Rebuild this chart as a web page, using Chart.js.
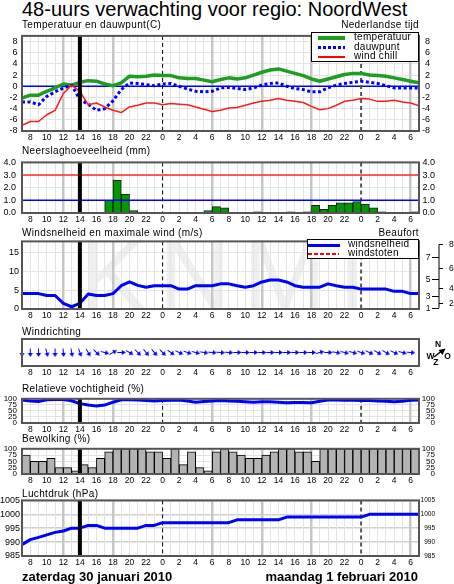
<!DOCTYPE html>
<html>
<head>
<meta charset="utf-8">
<title>48-uurs verwachting voor regio: NoordWest</title>
<script src="https://cdn.jsdelivr.net/npm/chart.js@4.4.1/dist/chart.umd.min.js"></script>
<style>
  html, body { margin: 0; padding: 0; background: #fff; }
  #page { position: relative; width: 454px; height: 584px; overflow: hidden;
          font-family: "Liberation Sans", Arial, Helvetica, sans-serif; color: #000; }
  canvas { position: absolute; left: 0; z-index: 1; }
  .txt { position: absolute; white-space: nowrap; line-height: 1; z-index: 2; }
  .lbl { font-size: 10px; letter-spacing: 0.35px; }
  .foot { font-size: 13px; font-weight: bold; }
  .legend { position: absolute; background: #fff; border: 1px solid #000; box-sizing: border-box; z-index: 3; }
  .legend .txt { font-size: 10px; letter-spacing: 0.3px; }
  .smp { position: absolute; }
  .cmp { font-size: 8.5px; font-weight: bold; }
  #wm { z-index: 0; font-size: 100px; color: #efefef; letter-spacing: 12px; }
</style>
</head>
<body>
<div id="page">
  <div class="txt" id="wm" style="left:80px;top:224px">KNMI</div>

  <div class="txt" style="left:22px;top:-1.5px;font-size:20px">48-uurs verwachting voor regio: NoordWest</div>

  <div class="txt lbl" style="left:22px;top:20px">Temperatuur en dauwpunt(C)</div>
  <div class="txt lbl" style="right:35px;top:20px">Nederlandse tijd</div>
  <div class="txt lbl" style="left:22px;top:145.5px">Neerslaghoeveelheid (mm)</div>
  <div class="txt lbl" style="left:22px;top:227.5px">Windsnelheid en maximale wind (m/s)</div>
  <div class="txt lbl" style="right:35px;top:227.5px">Beaufort</div>
  <div class="txt lbl" style="left:22px;top:326.5px">Windrichting</div>
  <div class="txt lbl" style="left:22px;top:384px">Relatieve vochtigheid (%)</div>
  <div class="txt lbl" style="left:22px;top:433.5px">Bewolking (%)</div>
  <div class="txt lbl" style="left:22px;top:488.5px">Luchtdruk (hPa)</div>

  <div class="txt foot" style="left:22px;top:569.5px">zaterdag 30 januari 2010</div>
  <div class="txt foot" style="right:36px;top:569.5px">maandag 1 februari 2010</div>

  <canvas id="cTemp" width="454" height="119" style="top:26px"></canvas>
  <canvas id="cRain" width="454" height="76" style="top:151px"></canvas>
  <canvas id="cWind" width="454" height="90" style="top:233px"></canvas>
  <canvas id="cDir" width="454" height="47" style="top:333px"></canvas>
  <canvas id="cHum" width="454" height="48" style="top:389px"></canvas>
  <canvas id="cCloud" width="454" height="49" style="top:439px"></canvas>
  <canvas id="cPres" width="454" height="77" style="top:493px"></canvas>

  <div class="legend" style="left:311px;top:32px;width:108px;height:30px">
    <div class="smp" style="left:6px;top:2.5px;width:27px;height:4px;background:#1e9e1e"></div>
    <div class="txt" style="left:42px;top:-1px">temperatuur</div>
    <div class="smp" style="left:6px;top:13px;width:27px;height:3px;background:repeating-linear-gradient(90deg,#0000ff 0 3px,transparent 3px 5px)"></div>
    <div class="txt" style="left:42px;top:8.5px">dauwpunt</div>
    <div class="smp" style="left:6px;top:23px;width:27px;height:1.5px;background:#ff0000"></div>
    <div class="txt" style="left:42px;top:18.3px">wind chill</div>
  </div>

  <div class="legend" style="left:306.5px;top:239px;width:112.5px;height:20px">
    <div class="smp" style="left:0.5px;top:3.5px;width:32px;height:3px;background:#0000ff"></div>
    <div class="txt" style="left:40.5px;top:-0.8px">windsnelheid</div>
    <div class="smp" style="left:0.5px;top:12.5px;width:31px;height:2.5px;background:repeating-linear-gradient(90deg,#ff0000 0 4px,transparent 4px 6px)"></div>
    <div class="txt" style="left:40.5px;top:8.2px">windstoten</div>
  </div>

  <div class="txt cmp" style="left:435px;top:339.8px">N</div>
  <div class="txt cmp" style="left:426.5px;top:351.5px">W</div>
  <div class="txt cmp" style="left:444.3px;top:351.5px">O</div>
  <div class="txt cmp" style="left:433.3px;top:358px">Z</div>
  <svg style="position:absolute;left:0;top:0;z-index:2" width="454" height="584">
    <line x1="434" y1="357" x2="441" y2="351.5" stroke="#000" stroke-width="1.5"/>
    <polygon points="445.5,348.5 438.5,350 442.5,355" fill="#000"/>
  </svg>
</div>

<script>
const FONT = '"Liberation Sans", Arial, Helvetica, sans-serif';

// x-axis: hours since Saturday 00:00 (7 = za 07:00, 24 = midnight, 55 = ma 07:00)
const hours = [7, 8, 9, 10, 11, 12, 13, 14, 15, 16, 17, 18, 19, 20, 21, 22, 23, 24, 25, 26, 27, 28, 29, 30, 31,
               32, 33, 34, 35, 36, 37, 38, 39, 40, 41, 42, 43, 44, 45, 46, 47, 48, 49, 50, 51, 52, 53, 54, 55];
const nowHour = 14;
const midnights = [24, 48];

// hourly values, one per entry in hours
const temperatuur = [-2.1, -1.6, -1.6, -0.9, -0.3, 0.4, 0.2, 0.7, 1.0, 0.9, 0.4, 0.1, 0.6, 1.8, 1.7, 1.8, 2.0, 1.9, 1.9,
                     1.5, 1.4, 1.4, 1.1, 0.8, 1.2, 1.5, 1.3, 1.5, 2.0, 2.5, 2.9, 3.1, 2.7, 2.3, 1.9, 1.3, 0.9, 1.3,
                     1.7, 2.1, 2.3, 2.3, 2.0, 1.9, 1.8, 1.5, 1.2, 0.9, 0.6];
const dauwpunt = [-2.8, -2.8, -3.3, -1.8, -1.0, -0.3, 0.2, -2.4, -3.2, -4.3, -4.0, -2.6, -0.6, 0.6, 0.5, 0.3, 0.1, 0.4, 0.5,
                  0.0, -0.5, -0.9, -1.0, -0.9, -0.3, -0.2, -0.4, -0.6, -0.3, 0.2, 0.5, 0.6, 0.0, -0.4, -0.6, -1.0, -1.0,
                  -0.3, 0.2, 0.5, 0.7, 0.9, 0.7, 0.5, 0.1, -0.3, -0.3, -0.3, -0.3];
const windchill = [-7.0, -6.3, -6.3, -5.1, -4.3, -1.3, 0.2, -0.9, -3.3, -3.0, -3.7, -4.3, -4.7, -3.7, -3.4, -3.0, -3.0,
                   -3.3, -3.1, -3.2, -3.3, -3.7, -4.1, -4.5, -4.3, -3.9, -3.8, -3.4, -3.0, -2.7, -2.5, -2.2, -2.5, -2.7,
                   -2.9, -3.6, -4.2, -4.0, -3.4, -2.7, -2.5, -2.2, -2.3, -2.7, -2.7, -2.5, -2.8, -3.0, -3.5];
const windsnelheid = [4.1, 4.1, 4.1, 3.6, 3.6, 1.5, 0.6, 1.5, 4.0, 3.6, 3.6, 4.1, 6.2, 7.2, 6.3, 5.8, 6.2, 6.2, 6.2, 5.3,
                      5.3, 6.2, 6.2, 6.2, 6.7, 6.7, 6.2, 5.8, 6.2, 7.2, 7.7, 7.7, 7.2, 6.2, 5.8, 5.8, 5.8, 6.7, 6.2, 5.8,
                      5.8, 5.3, 5.3, 5.3, 5.3, 4.7, 4.7, 4.1, 4.1];
const vochtigheid = [95, 91, 89, 96, 97, 97, 92, 80, 74, 70, 74, 86, 96, 96, 95, 93, 91, 93, 94, 95, 91, 86, 89, 91, 93,
                     91, 90, 88, 86, 88, 88, 86, 84, 85, 85, 84, 90, 95, 95, 94, 94, 93, 93, 91, 90, 88, 90, 94, 95];
const luchtdruk = [989.1, 990.9, 991.7, 992.6, 993.5, 994, 995, 995, 996, 996, 995, 995, 995, 995, 995, 996, 996, 997,
                   997, 997, 997, 997, 997, 997, 997, 997, 998, 998, 998, 998, 998, 998, 999, 999, 999, 999, 999, 999,
                   999, 999, 999, 999, 1000, 1000, 1000, 1000, 1000, 1000, 1000];

// per-hour blocks (hour h .. h+1), one per hour from 7 to 54
const neerslag = [0, 0, 0, 0, 0, 0, 0, 0, 0, 0, 1.0, 2.6, 1.5, 0.2, 0, 0, 0, 0, 0, 0, 0, 0, 0.2, 0.5, 0.4, 0, 0, 0,
                  0.1, 0, 0, 0, 0.1, 0, 0.1, 0.6, 0.3, 0.6, 0.8, 0.8, 0.9, 0.7, 0.4, 0.1, 0, 0, 0, 0.1];
const bewolking = [75, 50, 50, 62.5, 25, 25, 12.5, 37.5, 25, 62.5, 87.5, 100, 100, 100, 100, 87.5, 87.5, 62.5, 100, 37.5,
                   87.5, 25, 12.5, 87.5, 100, 87.5, 75, 62.5, 62.5, 75, 87.5, 100, 100, 87.5, 87.5, 50, 100, 100, 100,
                   100, 100, 100, 100, 100, 100, 100, 100, 100];
// wind direction (degrees, where the wind comes from), hours 7 to 54
const windrichting = [0, 0, 0, 345, 0, 355, 350, 340, 330, 315, 285, 240, 270, 300, 315, 320, 320, 315, 305, 295, 290,
                      285, 280, 275, 275, 275, 270, 270, 270, 270, 270, 270, 270, 270, 270, 270, 255, 270, 280, 285,
                      285, 290, 295, 300, 300, 295, 285, 275];

const tempTicks = [-8, -6, -4, -2, 0, 2, 4, 6, 8];
const neerslagTicks = [0, 1, 2, 3, 4];
const windTicks = [0, 5, 10, 15];
const procentTicks = [0, 25, 50, 75, 100];
const drukTicks = [985, 990, 995, 1000, 1005];
const beaufortGrens = [0.3, 1.6, 3.4, 5.5, 8.0, 10.8, 13.9, 17.2];
const beaufortLabels = ['1', '2', '3', '4', '5', '6', '7', '8'];

function points(values) {
	return values.map((v, i) => ({ x: hours[i], y: v }));
}
function blocks(values) {
	return values.map((v, i) => ({ x: hours[i] + 0.5, y: v }));
}

function tickHour(c) {
	return c.tick ? c.tick.value : -1;
}
function vGridColor(c) {
	const h = tickHour(c);
	if (h < 0 || midnights.includes(h) || h === nowHour) return 'rgba(0,0,0,0)';
	return h % 6 === 0 ? '#c6c6c6' : '#e3e3e3';
}

function xAxis(grid) {
	return {
		type: 'linear', min: 7, max: 55, offset: false,
		afterBuildTicks: s => { s.ticks = hours.map(h => ({ value: h })); },
		ticks: { autoSkip: false, maxRotation: 0, padding: 2, color: '#000', font: { size: 8.5, family: FONT },
			callback: v => (v % 2 === 0 ? String(v % 24) : '') },
		grid: { display: grid, offset: false, drawTicks: false, color: vGridColor,
			lineWidth: c => (tickHour(c) % 6 === 0 ? 2.5 : 1) },
		border: { display: false },
		afterFit: s => { s.height = 14; }
	};
}

// left and right value axes; o.rw fixes where the right labels end
function yAxes(min, max, ticks, fmt, o) {
	const show = ticks.length > 0;
	const font = { size: o.size || 9, family: FONT };
	return {
		y: {
			position: 'left', min: min, max: max,
			afterBuildTicks: s => { s.ticks = ticks.map(v => ({ value: v })); },
			ticks: { display: show, autoSkip: false, padding: o.padL, color: '#000', font: font, callback: fmt },
			grid: { display: show, drawTicks: false, color: o.grid || '#e3e3e3', lineWidth: o.gridW || 1 },
			border: { display: false },
			afterFit: s => { s.width = 22; }
		},
		y2: {
			position: 'right', min: min, max: max,
			afterBuildTicks: s => { s.ticks = ticks.map(v => ({ value: v })); },
			ticks: { display: show && o.right !== false, autoSkip: false, crossAlign: 'far', color: '#000',
				font: { size: o.sizeR || o.size || 9, family: FONT }, callback: fmt },
			grid: { drawOnChartArea: false, drawTicks: false },
			border: { display: false },
			afterFit: s => { s.width = o.rw; }
		}
	};
}

// time marks, reference lines and the frame round the plot area
function marks(o) {
	function hLine(ctx, a, y, color, width) {
		ctx.beginPath();
		ctx.setLineDash([]);
		ctx.strokeStyle = color;
		ctx.lineWidth = width;
		ctx.moveTo(a.left, y);
		ctx.lineTo(a.right, y);
		ctx.stroke();
	}
	return {
		id: 'marks',
		beforeDatasetsDraw(chart) {
			const { ctx, chartArea: a, scales } = chart;
			ctx.save();
			(o.under || []).forEach(l => hLine(ctx, a, scales.y.getPixelForValue(l.value), l.color, l.width));
			if (o.midnight) {
				midnights.forEach((h, i) => {
					const px = scales.x.getPixelForValue(h);
					ctx.beginPath();
					ctx.setLineDash([4, 3]);
					ctx.lineWidth = i === 0 ? 1 : 2;
					ctx.strokeStyle = i === 0 ? '#000' : '#555';
					ctx.moveTo(px, a.top);
					ctx.lineTo(px, a.bottom);
					ctx.stroke();
				});
			}
			ctx.restore();
		},
		afterDatasetsDraw(chart) {
			const { ctx, chartArea: a, scales } = chart;
			ctx.save();
			(o.over || []).forEach(l => hLine(ctx, a, scales.y.getPixelForValue(l.value), l.color, l.width));
			if (o.now) {
				const px = scales.x.getPixelForValue(nowHour);
				ctx.fillStyle = '#000';
				ctx.fillRect(px - 2, a.top, 4, a.bottom - a.top);
			}
			ctx.setLineDash([]);
			ctx.strokeStyle = '#555';
			ctx.lineWidth = 2;
			ctx.strokeRect(a.left, a.top, a.right - a.left, a.bottom - a.top);
			ctx.restore();
		}
	};
}

// Beaufort scale next to the wind panel, placed with the m/s axis
const beaufortAxis = {
	id: 'beaufort',
	afterDraw(chart) {
		const { ctx, chartArea: a, scales } = chart;
		const ax = a.right + 20;
		ctx.save();
		ctx.strokeStyle = '#000';
		ctx.lineWidth = 1;
		ctx.fillStyle = '#000';
		ctx.font = '8.5px ' + FONT;
		ctx.textBaseline = 'middle';
		ctx.beginPath();
		ctx.moveTo(ax, scales.y.getPixelForValue(beaufortGrens[0]));
		ctx.lineTo(ax, scales.y.getPixelForValue(beaufortGrens[beaufortGrens.length - 1]));
		ctx.stroke();
		beaufortGrens.forEach((v, i) => {
			const py = Math.round(scales.y.getPixelForValue(v)) + 0.5;
			ctx.beginPath();
			if (i % 2 === 0) {
				ctx.moveTo(ax - 7, py); ctx.lineTo(ax, py);
				ctx.textAlign = 'right';
				ctx.fillText(beaufortLabels[i], ax - 8.5, py);
			} else {
				ctx.moveTo(ax, py); ctx.lineTo(ax + 4, py);
				ctx.textAlign = 'left';
				ctx.fillText(beaufortLabels[i], ax + 10, py);
			}
			ctx.stroke();
		});
		ctx.restore();
	}
};

function arrowImage() {
	const c = document.createElement('canvas');
	c.width = 11;
	c.height = 11;
	const g = c.getContext('2d');
	g.strokeStyle = '#0000ff';
	g.fillStyle = '#0000ff';
	g.lineWidth = 1;
	g.beginPath(); g.moveTo(1.5, 5.5); g.lineTo(7, 5.5); g.stroke();
	g.beginPath(); g.moveTo(10, 5.5); g.lineTo(6, 3); g.lineTo(6, 8); g.closePath(); g.fill();
	return c;
}

function panel(id, type, datasets, scales, layoutRight, plugins) {
	return new Chart(document.getElementById(id), {
		type: type,
		data: { datasets: datasets },
		options: {
			responsive: false, animation: false, events: [],
			layout: { padding: { top: 6, left: 0, right: layoutRight, bottom: 0 } },
			scales: scales,
			plugins: { legend: { display: false }, tooltip: { enabled: false } }
		},
		plugins: plugins
	});
}

function lineSet(values, color, width, dash) {
	return { data: points(values), yAxisID: 'y', borderColor: color, borderWidth: width, borderDash: dash || [],
		pointRadius: 0, tension: 0, fill: false, borderCapStyle: 'butt', borderJoinStyle: 'round' };
}

function withX(scales, grid) {
	scales.x = xAxis(grid);
	return scales;
}

// Temperatuur en dauwpunt
panel('cTemp', 'line', [
	lineSet(windchill, '#ff1a1a', 1.5),
	lineSet(dauwpunt, '#0000ff', 3, [3, 2.5]),
	lineSet(temperatuur, '#1e9e1e', 3.5)
], withX(yAxes(-8, 9, tempTicks, v => String(v), { padL: 4.5, rw: 11 }), true), 24,
	[marks({ midnight: true, now: true, under: [{ value: 0, color: '#0000ff', width: 1.5 }] })]);

// Neerslag
panel('cRain', 'bar', [{
	data: blocks(neerslag), yAxisID: 'y', backgroundColor: '#009a00', borderColor: '#1a1a1a',
	borderWidth: c => (c.raw && c.raw.y > 0 ? 1 : 0), borderSkipped: 'bottom',
	barPercentage: 1, categoryPercentage: 1
}], withX(yAxes(0, 4, neerslagTicks, v => v.toFixed(1), { padL: 6, rw: 16 }), true), 19,
	[marks({ midnight: true, now: true, over: [{ value: 3, color: '#ff2a2a', width: 1.5 }, { value: 1, color: '#0000ff', width: 1.5 }] })]);

// Windsnelheid
panel('cWind', 'line', [
	lineSet(windsnelheid, '#0000ff', 3)
], withX(yAxes(0, 18, windTicks, v => String(v), { padL: 3, rw: 35, right: false }), true), 0,
	[marks({ midnight: true, now: true }), beaufortAxis]);

// Windrichting
const arrow = arrowImage();
panel('cDir', 'line', [{
	data: windrichting.map((d, i) => ({ x: hours[i], y: 0.5 })), yAxisID: 'y',
	showLine: false, pointStyle: arrow, pointRadius: 5, clip: false,
	pointRotation: windrichting.map(d => d + 90)
}], withX(yAxes(0, 1, [], v => '', { padL: 3, rw: 35 }), false), 0, [marks({})]);

// Relatieve vochtigheid
panel('cHum', 'line', [
	lineSet(vochtigheid, '#0000ff', 3)
], withX(yAxes(0, 100, procentTicks, v => String(v), { padL: 5, rw: 16, size: 8 }), true), 19,
	[marks({ midnight: true, now: true })]);

// Bewolking
panel('cCloud', 'bar', [{
	data: blocks(bewolking), yAxisID: 'y', backgroundColor: '#b3b3b3', borderColor: '#000',
	borderWidth: 1, borderSkipped: 'bottom', barPercentage: 1, categoryPercentage: 1
}], withX(yAxes(0, 100, procentTicks, v => String(v), { padL: 5, rw: 16, size: 8 }), true), 19,
	[marks({ now: true })]);

// Luchtdruk
panel('cPres', 'line', [
	lineSet(luchtdruk, '#0000ff', 3)
], withX(yAxes(985, 1005, drukTicks, v => String(v), { padL: 2, rw: 16, size: 9, sizeR: 6.5, grid: '#cfcfcf', gridW: 1.5 }), true), 19,
	[marks({ midnight: true, now: true })]);
</script>
</body>
</html>
